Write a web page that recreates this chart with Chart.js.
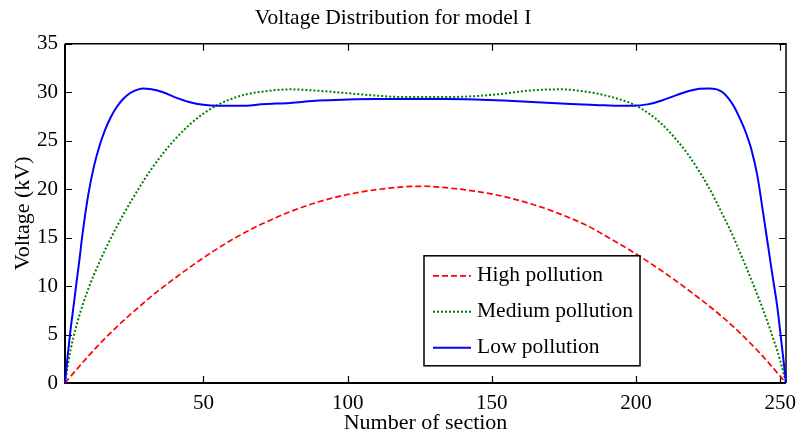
<!DOCTYPE html>
<html><head><meta charset="utf-8">
<script src="https://cdn.jsdelivr.net/npm/chart.js@4.4.1/dist/chart.umd.min.js"></script>
<style>html,body{margin:0;padding:0;background:#fff}canvas{display:block}</style>
</head><body>
<canvas id="c" width="798" height="435"></canvas>
<script>
const sections = [2,3,4,5,6,7,8,10,12,14,16,18,20,22,24,26,29,32,36,40,45,50,55,60,65,70,80,90,100,110,120,127,
  134,144,154,164,174,184,189,194,199,204,209,214,218,222,225,228,230,232,234,236,238,240,242,244,246,247,248,249,250,251,252];
const highPollution = [0,0.35,0.7,1.05,1.39,1.73,2.07,2.74,3.4,4.03,4.64,5.23,5.8,6.36,6.9,7.42,8.2,8.96,9.9,10.8,11.88,12.92,13.9,14.8,15.62,16.37,17.67,18.7,19.45,19.95,20.25,20.3,
  20.15,19.8,19.25,18.45,17.4,16.1,15.25,14.4,13.5,12.55,11.55,10.5,9.62,8.72,8.02,7.3,6.8,6.28,5.74,5.18,4.6,4.0,3.38,2.74,2.08,1.74,1.39,1.04,0.69,0.34,0];
const mediumPollution = [0,1.9,3.5,4.8,5.95,7.0,7.95,9.65,11.15,12.5,13.8,15.0,16.15,17.25,18.3,19.3,20.75,22.1,23.7,25.1,26.6,27.8,28.7,29.35,29.8,30.05,30.3,30.15,29.9,29.65,29.5,29.5,
  29.5,29.6,29.85,30.2,30.3,30.0,29.7,29.3,28.75,27.9,26.7,25.1,23.6,21.8,20.3,18.6,17.4,16.2,14.9,13.5,12.1,10.65,9.15,7.6,5.95,5.1,4.2,3.3,2.3,1.2,0];
const lowPollution = [0,3.0,5.7,8.0,10.4,12.7,15.2,19.3,22.3,24.5,26.2,27.5,28.5,29.25,29.8,30.15,30.4,30.3,30.0,29.5,29.0,28.7,28.6,28.6,28.6,28.75,28.9,29.15,29.25,29.3,29.3,29.3,
  29.3,29.25,29.15,29.0,28.85,28.7,28.65,28.6,28.6,28.75,29.15,29.7,30.1,30.35,30.4,30.3,30.0,29.4,28.5,27.3,25.9,24.1,21.5,17.7,13.7,11.7,9.8,7.8,5.3,2.7,0];
const xTickValues = [50,100,150,200,250];
const yTickValues = [0,5,10,15,20,25,30,35];
const seriesNames = ['High pollution','Medium pollution','Low pollution'];
const chartTitle = 'Voltage Distribution for model I';
const xTitle = 'Number of section';
const yTitle = 'Voltage (kV)';

const FONT = "'Liberation Serif','Times New Roman',serif";
const pts = arr => sections.map((s,i)=>({x:s,y:arr[i]}));

const axesFrame = {
  id:'axesFrame',
  beforeDatasetsDraw(chart){
    const {ctx, chartArea:a, scales:{x,y}} = chart;
    ctx.save();
    ctx.strokeStyle='#000';
    ctx.lineWidth=1.2;
    const L=7;
    ctx.beginPath();
    xTickValues.forEach(v=>{
      const px=Math.round(x.getPixelForValue(v))+0.5;
      ctx.moveTo(px,a.bottom); ctx.lineTo(px,a.bottom-L);
      ctx.moveTo(px,a.top); ctx.lineTo(px,a.top+L);
    });
    yTickValues.forEach(v=>{
      const py=Math.round(y.getPixelForValue(v))+0.5;
      ctx.moveTo(a.left,py); ctx.lineTo(a.left+L,py);
      ctx.moveTo(a.right,py); ctx.lineTo(a.right-L,py);
    });
    ctx.stroke();
    ctx.lineWidth=1.5;
    ctx.beginPath();
    ctx.moveTo(a.left,a.top); ctx.lineTo(a.right,a.top); ctx.lineTo(a.right,a.bottom);
    ctx.stroke();
    ctx.lineWidth=2;
    ctx.beginPath();
    ctx.moveTo(a.left,a.top); ctx.lineTo(a.left,a.bottom); ctx.lineTo(a.right,a.bottom);
    ctx.stroke();
    ctx.restore();
  }
};

const boxLegend = {
  id:'boxLegend',
  afterDraw(chart){
    const {ctx, chartArea:a} = chart;
    const bx=a.left+359, by=a.top+212, bw=216, bh=110;
    ctx.save();
    ctx.fillStyle='#fff'; ctx.fillRect(bx,by,bw,bh);
    ctx.strokeStyle='#000'; ctx.lineWidth=1.5; ctx.strokeRect(bx,by,bw,bh);
    ctx.font='21.5px '+FONT; ctx.textBaseline='middle'; ctx.textAlign='left';
    chart.data.datasets.forEach((ds,i)=>{
      const cy=by+20+i*36;
      ctx.strokeStyle=ds.borderColor; ctx.lineWidth=ds.borderWidth;
      ctx.setLineDash(ds.borderDash||[]);
      ctx.beginPath(); ctx.moveTo(bx+9,cy); ctx.lineTo(bx+47,cy); ctx.stroke();
      ctx.setLineDash([]);
      ctx.fillStyle='#000'; ctx.fillText(ds.label,bx+53,cy);
    });
    ctx.restore();
  }
};

new Chart(document.getElementById('c'), {
  type:'line',
  data:{datasets:[
    {label:seriesNames[0], data:pts(highPollution), borderColor:'#ff0000', borderWidth:1.7, borderDash:[6,3], order:3},
    {label:seriesNames[1], data:pts(mediumPollution), borderColor:'#008000', borderWidth:2, borderDash:[2,2], order:2},
    {label:seriesNames[2], data:pts(lowPollution), borderColor:'#0000ff', borderWidth:2, order:1}
  ]},
  options:{
    responsive:false, animation:false, devicePixelRatio:1,
    layout:{padding:{left:0,right:12,top:0,bottom:0}},
    elements:{point:{radius:0}, line:{cubicInterpolationMode:'monotone', fill:false}},
    datasets:{line:{clip:4}},
    plugins:{
      legend:{display:false}, tooltip:{enabled:false},
      title:{display:true, text:chartTitle, color:'#000', font:{family:FONT,size:21.5,weight:'normal'}, padding:{top:5,bottom:13}}
    },
    scales:{
      x:{type:'linear', min:2, max:252,
        afterBuildTicks:s=>{s.ticks=xTickValues.map(v=>({value:v}));},
        afterFit:s=>{s.height=52; s.paddingRight=0; s.paddingLeft=0;},
        grid:{display:false, drawTicks:false}, border:{display:false},
        ticks:{color:'#000', font:{family:FONT,size:21}, padding:8, maxRotation:0, autoSkip:false},
        title:{display:true, text:xTitle, color:'#000', font:{family:FONT,size:22,lineHeight:1.1}, padding:{top:0,bottom:0}}
      },
      y:{type:'linear', min:0, max:35,
        afterBuildTicks:s=>{s.ticks=yTickValues.map(v=>({value:v}));},
        afterFit:s=>{s.width=65;},
        grid:{display:false, drawTicks:false}, border:{display:false},
        ticks:{color:'#000', font:{family:FONT,size:21}, padding:7},
        title:{display:true, text:yTitle, color:'#000', font:{family:FONT,size:22}, padding:{top:10,bottom:0}}
      }
    }
  },
  plugins:[axesFrame, boxLegend]
});
</script>
</body></html>
